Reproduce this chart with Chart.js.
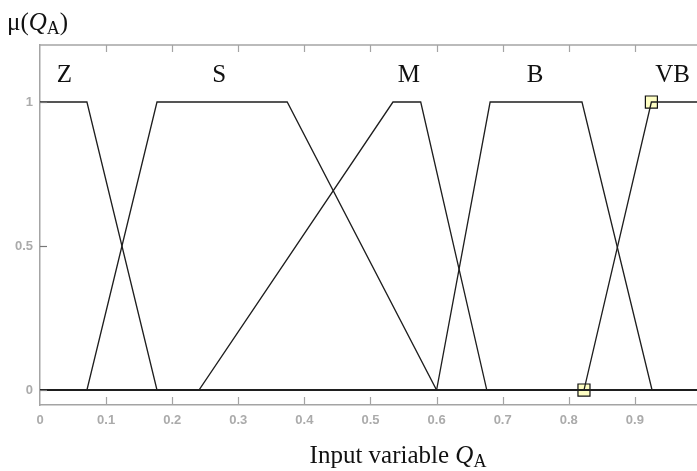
<!DOCTYPE html>
<html>
<head>
<meta charset="utf-8">
<script src="https://cdn.jsdelivr.net/npm/chart.js@4/dist/chart.umd.min.js"></script>
<style>
  html, body { margin: 0; padding: 0; background: #fff; }
  #wrap { width: 697px; height: 471px; position: relative; }
</style>
</head>
<body>
<div id="wrap"><canvas id="mfChart"></canvas></div>
<script>
// Membership functions of the input variable Q_A (breakpoints / degrees)
const setNames = ['Z', 'S', 'M', 'B', 'VB'];

const zX = [0, 0.071, 0.177, 1];
const zY = [1, 1, 0, 0];

const sX = [0, 0.071, 0.177, 0.374, 0.6, 1];
const sY = [0, 0, 1, 1, 0, 0];

const mX = [0, 0.2405, 0.534, 0.576, 0.676, 1];
const mY = [0, 0, 1, 1, 0, 0];

const bX = [0, 0.6, 0.681, 0.82, 0.926, 1];
const bY = [0, 0, 1, 1, 0, 0];

const vbX = [0, 0.823, 0.925, 1];
const vbY = [0, 0, 1, 1];

// Selected points (square markers)
const markX = [0.823, 0.925];
const markY = [0, 1];

const xTicks = [0, 0.1, 0.2, 0.3, 0.4, 0.5, 0.6, 0.7, 0.8, 0.9];
const yTicks = [0, 0.5, 1];

// label anchor positions for set names (data coordinates)
const nameAnchorX = [0.037, 0.271, 0.558, 0.749, 0.957];
const nameAnchorY = 1.1;

const FRAME = '#a4a4a4';
const SERIF = '"Liberation Serif", "Times New Roman", serif';

function toPoints(xs, ys) {
    return xs.map((x, i) => ({ x: x, y: ys[i] }));
}

const seriesX = [zX, sX, mX, bX, vbX];
const seriesY = [zY, sY, mY, bY, vbY];

const datasets = setNames.map((name, i) => ({
    label: name,
    data: toPoints(seriesX[i], seriesY[i]),
    borderColor: '#1e1e1e',
    borderWidth: 1.3,
    pointRadius: 0,
    fill: false,
    tension: 0
}));

datasets.push({
    label: 'marks',
    type: 'scatter',
    data: toPoints(markX, markY),
    pointStyle: 'rect',
    pointRadius: 8.5,
    pointBackgroundColor: '#ffffc4',
    pointBorderColor: '#111',
    pointBorderWidth: 1.2,
    clip: false
});

// draw a run of text pieces with different fonts
function drawRuns(ctx, runs, x, y, align) {
    let total = 0;
    runs.forEach(r => { ctx.font = r.font; total += ctx.measureText(r.text).width; });
    let cx = align === 'center' ? x - total / 2 : x;
    runs.forEach(r => {
        ctx.font = r.font;
        ctx.fillText(r.text, cx, y + (r.dy || 0));
        cx += ctx.measureText(r.text).width;
    });
}

const framePlugin = {
    id: 'framePlugin',
    afterDraw(chart) {
        const { ctx, chartArea: a, scales } = chart;
        ctx.save();
        ctx.strokeStyle = FRAME;
        ctx.lineWidth = 1.5;
        // top border
        ctx.beginPath();
        ctx.moveTo(a.left, a.top);
        ctx.lineTo(a.right, a.top);
        ctx.stroke();

        // inward tick marks
        ctx.lineWidth = 1.2;
        xTicks.forEach(v => {
            if (v === 0) return;
            const px = Math.round(scales.x.getPixelForValue(v)) + 0.5;
            ctx.beginPath();
            ctx.moveTo(px, a.bottom);
            ctx.lineTo(px, a.bottom - 8);
            ctx.moveTo(px, a.top);
            ctx.lineTo(px, a.top + 7);
            ctx.stroke();
        });
        ctx.strokeStyle = '#777';
        yTicks.forEach(v => {
            const py = Math.round(scales.y.getPixelForValue(v)) + 0.5;
            ctx.beginPath();
            ctx.moveTo(a.left, py);
            ctx.lineTo(a.left + 7, py);
            ctx.stroke();
        });

        // texts
        ctx.fillStyle = '#111';
        ctx.textBaseline = 'alphabetic';
        ctx.textAlign = 'left';
        const big = '25px ' + SERIF;
        const bigIt = 'italic 25px ' + SERIF;
        const sub = '18px ' + SERIF;

        drawRuns(ctx, [
            { text: 'μ(', font: big },
            { text: 'Q', font: bigIt },
            { text: 'A', font: sub, dy: 4 },
            { text: ')', font: big }
        ], 7, 30, 'left');

        setNames.forEach((name, i) => {
            const px = scales.x.getPixelForValue(nameAnchorX[i]);
            const py = scales.y.getPixelForValue(nameAnchorY);
            drawRuns(ctx, [{ text: name, font: big }], px, py + 9, 'center');
        });

        drawRuns(ctx, [
            { text: 'Input variable ', font: big },
            { text: 'Q', font: bigIt },
            { text: 'A', font: sub, dy: 4 }
        ], 398, 463, 'center');
        ctx.restore();
    }
};

new Chart(document.getElementById('mfChart'), {
    type: 'line',
    data: { datasets: datasets },
    options: {
        responsive: true,
        maintainAspectRatio: false,
        animation: false,
        events: [],
        layout: { autoPadding: false, padding: { top: 45, right: 0, bottom: 36, left: 0 } },
        plugins: {
            legend: { display: false },
            tooltip: { enabled: false }
        },
        scales: {
            x: {
                type: 'linear',
                min: 0,
                max: 0.994,
                afterFit: s => { s.height = 30; s.paddingLeft = 0; s.paddingRight = 0; },
                afterBuildTicks: s => { s.ticks = xTicks.map(v => ({ value: v })); },
                grid: { display: false, drawTicks: false },
                border: { display: true, color: FRAME, width: 1.5 },
                ticks: {
                    padding: 8,
                    color: '#ababab',
                    font: { family: '"Liberation Sans", Arial, sans-serif', size: 13, weight: 'bold' },
                    maxRotation: 0,
                    autoSkip: false,
                    callback: v => String(Math.round(v * 10) / 10)
                }
            },
            y: {
                type: 'linear',
                min: -0.052,
                max: 1.198,
                afterFit: s => { s.width = 40; s.paddingTop = 0; s.paddingBottom = 0; },
                afterBuildTicks: s => { s.ticks = yTicks.map(v => ({ value: v })); },
                grid: { display: false, drawTicks: false },
                border: { display: true, color: FRAME, width: 1.5 },
                ticks: {
                    padding: 7,
                    color: '#ababab',
                    font: { family: '"Liberation Sans", Arial, sans-serif', size: 13, weight: 'bold' },
                    callback: v => String(v)
                }
            }
        }
    },
    plugins: [framePlugin]
});
</script>
</body>
</html>
